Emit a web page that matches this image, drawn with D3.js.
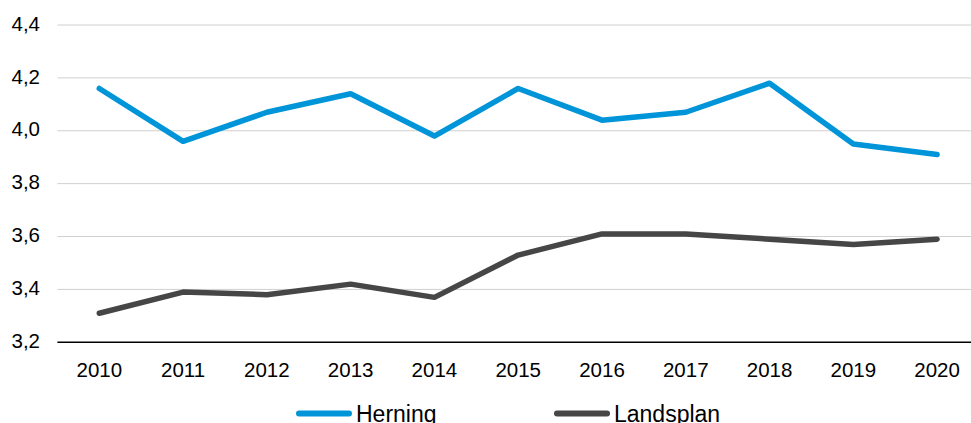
<!DOCTYPE html>
<html><head><meta charset="utf-8">
<script src="https://cdn.jsdelivr.net/npm/d3@7"></script>
<style>body{margin:0;background:#fff;}svg{display:block;font-family:"Liberation Sans",Arial,sans-serif;}</style>
</head><body><svg id="c" width="971" height="423"></svg>
<script>
const years = ["2010","2011","2012","2013","2014","2015","2016","2017","2018","2019","2020"];
const herning = [4.16,3.96,4.07,4.14,3.98,4.16,4.04,4.07,4.18,3.95,3.91];
const landsplan = [3.31,3.39,3.38,3.42,3.37,3.53,3.61,3.61,3.59,3.57,3.59];
const yTicks = [3.2,3.4,3.6,3.8,4.0,4.2,4.4];
const seriesNames = ["Herning","Landsplan"];
const colors = ["#0094d8","#464646"];

const svg = d3.select("#c");
const x = d3.scaleBand().domain(years).range([57.4, 979]);
const y = d3.scaleLinear().domain([3.2,4.4]).range([342.3, 25]);
const fmt = d => d.toFixed(1).replace(".", ",");
const FS = 20.5;

// gridlines
svg.append("g").selectAll("line").data(yTicks.filter(t=>t>3.2)).join("line")
  .attr("x1",57.4).attr("x2",979).attr("y1",d=>y(d)).attr("y2",d=>y(d))
  .attr("stroke","#d0d0d0").attr("stroke-width",1);

// y labels
svg.append("g").selectAll("text").data(yTicks).join("text")
  .attr("x",40).attr("y",d=>y(d)+5.7).attr("text-anchor","end")
  .attr("font-size",FS).attr("fill","#000").text(fmt);

// x axis
svg.append("line").attr("x1",57.4).attr("x2",979).attr("y1",y(3.2)).attr("y2",y(3.2))
  .attr("stroke","#000").attr("stroke-width",1.5);
svg.append("g").selectAll("text").data(years).join("text")
  .attr("x",d=>x(d)+x.bandwidth()/2).attr("y",376.5).attr("text-anchor","middle")
  .attr("font-size",FS).attr("fill","#000").text(d=>d);

const line = d3.line().x((d,i)=>x(years[i])+x.bandwidth()/2).y(d=>y(d));
[herning, landsplan].forEach((s,i)=>{
  svg.append("path").attr("d",line(s)).attr("fill","none").attr("stroke",colors[i])
    .attr("stroke-width",5.5).attr("stroke-linejoin","round").attr("stroke-linecap","round");
});

// legend
const legX = [296,554];
seriesNames.forEach((n,i)=>{
  const lx = legX[i];
  svg.append("line").attr("x1",lx+3).attr("x2",lx+53).attr("y1",413.5).attr("y2",413.5)
    .attr("stroke",colors[i]).attr("stroke-width",6).attr("stroke-linecap","round");
  svg.append("text").attr("x",lx+60).attr("y",422).attr("font-size",23).attr("fill","#000").text(n);
});
</script></body></html>
